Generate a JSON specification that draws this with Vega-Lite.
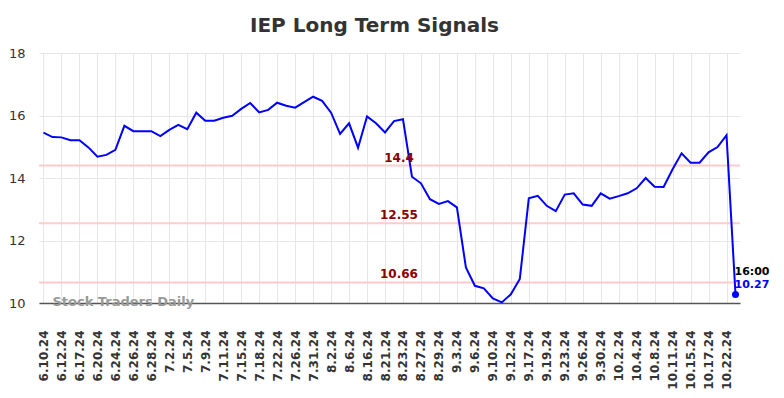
{
  "$schema": "https://vega.github.io/schema/vega-lite/v6.json",
  "width": 701,
  "height": 250,
  "autosize": {"type": "none"},
  "padding": {"left": 39, "top": 53, "right": 44, "bottom": 95},
  "background": "white",
  "title": {"text": "IEP Long Term Signals", "fontSize": 20, "fontWeight": "bold", "font": "DejaVu Sans", "color": "#333333", "anchor": "middle", "offset": 11, "dx": -15},
  "config": {
    "view": {"stroke": null},
    "font": "DejaVu Sans"
  },
  "datasets": {
    "prices": [
      {"date": "6.10.24", "value": 15.45},
      {"date": "6.11.24", "value": 15.31},
      {"date": "6.12.24", "value": 15.30},
      {"date": "6.13.24", "value": 15.21},
      {"date": "6.17.24", "value": 15.21},
      {"date": "6.18.24", "value": 14.98},
      {"date": "6.20.24", "value": 14.68},
      {"date": "6.21.24", "value": 14.74},
      {"date": "6.24.24", "value": 14.90},
      {"date": "6.25.24", "value": 15.67},
      {"date": "6.26.24", "value": 15.50},
      {"date": "6.27.24", "value": 15.50},
      {"date": "6.28.24", "value": 15.50},
      {"date": "7.1.24", "value": 15.34},
      {"date": "7.2.24", "value": 15.54},
      {"date": "7.3.24", "value": 15.70},
      {"date": "7.5.24", "value": 15.56},
      {"date": "7.8.24", "value": 16.09},
      {"date": "7.9.24", "value": 15.83},
      {"date": "7.10.24", "value": 15.83},
      {"date": "7.11.24", "value": 15.93},
      {"date": "7.12.24", "value": 15.99},
      {"date": "7.15.24", "value": 16.21},
      {"date": "7.16.24", "value": 16.40},
      {"date": "7.18.24", "value": 16.10},
      {"date": "7.19.24", "value": 16.18},
      {"date": "7.22.24", "value": 16.41},
      {"date": "7.23.24", "value": 16.31},
      {"date": "7.26.24", "value": 16.25},
      {"date": "7.29.24", "value": 16.43},
      {"date": "7.31.24", "value": 16.60},
      {"date": "8.1.24", "value": 16.47},
      {"date": "8.2.24", "value": 16.09},
      {"date": "8.5.24", "value": 15.41},
      {"date": "8.6.24", "value": 15.75},
      {"date": "8.7.24", "value": 14.97},
      {"date": "8.16.24", "value": 15.97},
      {"date": "8.19.24", "value": 15.75},
      {"date": "8.21.24", "value": 15.46},
      {"date": "8.22.24", "value": 15.82},
      {"date": "8.23.24", "value": 15.88},
      {"date": "8.26.24", "value": 14.04},
      {"date": "8.27.24", "value": 13.83},
      {"date": "8.28.24", "value": 13.32},
      {"date": "8.29.24", "value": 13.17},
      {"date": "8.30.24", "value": 13.26},
      {"date": "9.3.24", "value": 13.06},
      {"date": "9.4.24", "value": 11.14},
      {"date": "9.6.24", "value": 10.55},
      {"date": "9.9.24", "value": 10.47},
      {"date": "9.10.24", "value": 10.15},
      {"date": "9.11.24", "value": 10.02},
      {"date": "9.12.24", "value": 10.28},
      {"date": "9.13.24", "value": 10.77},
      {"date": "9.17.24", "value": 13.35},
      {"date": "9.18.24", "value": 13.43},
      {"date": "9.19.24", "value": 13.11},
      {"date": "9.20.24", "value": 12.94},
      {"date": "9.23.24", "value": 13.47},
      {"date": "9.24.24", "value": 13.51},
      {"date": "9.26.24", "value": 13.15},
      {"date": "9.27.24", "value": 13.11},
      {"date": "9.30.24", "value": 13.51},
      {"date": "10.1.24", "value": 13.34},
      {"date": "10.2.24", "value": 13.42},
      {"date": "10.3.24", "value": 13.51},
      {"date": "10.4.24", "value": 13.67},
      {"date": "10.7.24", "value": 14.00},
      {"date": "10.8.24", "value": 13.72},
      {"date": "10.9.24", "value": 13.71},
      {"date": "10.11.24", "value": 14.28},
      {"date": "10.14.24", "value": 14.79},
      {"date": "10.15.24", "value": 14.49},
      {"date": "10.16.24", "value": 14.49},
      {"date": "10.17.24", "value": 14.82},
      {"date": "10.18.24", "value": 14.99},
      {"date": "10.22.24", "value": 15.37},
      {"date": "10.23.24", "value": 10.27}
    ],
    "levels": [
      {"level": 14.4, "label": "14.4"},
      {"level": 12.55, "label": "12.55"},
      {"level": 10.66, "label": "10.66"}
    ]
  },
  "layer": [
    {
      "data": {"name": "levels"},
      "mark": {"type": "rule", "color": "#ffcccc", "strokeWidth": 2},
      "encoding": {
        "y": {"field": "level", "type": "quantitative", "scale": {"domain": [10, 18], "nice": false, "zero": false}}
      }
    },
    {
      "data": {"name": "prices"},
      "mark": {"type": "line", "color": "#0000ff", "strokeWidth": 2},
      "encoding": {
        "x": {
          "field": "date", "type": "ordinal", "sort": null,
          "scale": {"type": "point", "padding": 0.5},
          "axis": {
            "title": null,
            "values": ["6.10.24","6.12.24","6.17.24","6.20.24","6.24.24","6.26.24","6.28.24","7.2.24","7.5.24","7.9.24","7.11.24","7.15.24","7.18.24","7.22.24","7.26.24","7.31.24","8.2.24","8.6.24","8.16.24","8.21.24","8.23.24","8.27.24","8.29.24","9.3.24","9.6.24","9.10.24","9.12.24","9.17.24","9.19.24","9.23.24","9.26.24","9.30.24","10.2.24","10.4.24","10.8.24","10.11.24","10.15.24","10.17.24","10.22.24"],
            "labelAngle": -90,
            "labelFontSize": 12,
            "labelFontWeight": "bold",
            "labelColor": "#333333",
            "labelPadding": 27,
            "ticks": false,
            "grid": true,
            "gridColor": "#e6e6e6",
            "gridWidth": 1,
            "domainColor": "#555555",
            "domainWidth": 1.5,
            "labelOverlap": false,
            "zindex": 0
          }
        },
        "y": {
          "field": "value", "type": "quantitative",
          "scale": {"domain": [10, 18], "nice": false, "zero": false},
          "axis": {
            "title": null,
            "values": [10, 12, 14, 16, 18],
            "labelFontSize": 13,
            "labelColor": "#333333",
            "labelPadding": 14,
            "ticks": false,
            "domain": false,
            "grid": true,
            "gridColor": "#e6e6e6",
            "gridWidth": 1,
            "zindex": 0
          }
        }
      }
    },
    {
      "data": {"name": "levels"},
      "mark": {"type": "text", "color": "#8b0000", "fontSize": 12, "fontWeight": "bold", "align": "center", "baseline": "bottom", "dx": 5, "dy": -1},
      "encoding": {
        "x": {"datum": "8.22.24", "type": "ordinal"},
        "y": {"field": "level", "type": "quantitative"},
        "text": {"field": "label"}
      }
    },
    {
      "data": {"name": "prices"},
      "transform": [{"filter": "datum.date === '10.23.24'"}],
      "mark": {"type": "point", "filled": true, "color": "#0000ff", "size": 50, "opacity": 1},
      "encoding": {
        "x": {"field": "date", "type": "ordinal", "sort": null},
        "y": {"field": "value", "type": "quantitative"}
      }
    },
    {
      "data": {"name": "prices"},
      "transform": [{"filter": "datum.date === '10.23.24'"}],
      "mark": {"type": "text", "color": "#0000ff", "fontSize": 11, "fontWeight": "bold", "align": "left", "baseline": "middle", "dy": -10, "dx": -1},
      "encoding": {
        "x": {"field": "date", "type": "ordinal", "sort": null},
        "y": {"field": "value", "type": "quantitative"},
        "text": {"field": "value", "type": "quantitative", "format": ".2f"}
      }
    },
    {
      "data": {"name": "prices"},
      "transform": [{"filter": "datum.date === '10.23.24'"}],
      "mark": {"type": "text", "color": "#000000", "fontSize": 11, "fontWeight": "bold", "align": "left", "baseline": "middle", "dy": -23, "dx": -1, "text": "16:00"},
      "encoding": {
        "x": {"field": "date", "type": "ordinal", "sort": null},
        "y": {"field": "value", "type": "quantitative"}
      }
    },
    {
      "data": {"values": [{"label": "Stock Traders Daily"}]},
      "mark": {"type": "text", "color": "#999999", "fontSize": 13, "fontWeight": "bold", "align": "left", "baseline": "middle", "dy": -1},
      "encoding": {
        "x": {"datum": "6.11.24", "type": "ordinal"},
        "y": {"datum": 10, "type": "quantitative"},
        "text": {"field": "label"}
      }
    }
  ]
}
